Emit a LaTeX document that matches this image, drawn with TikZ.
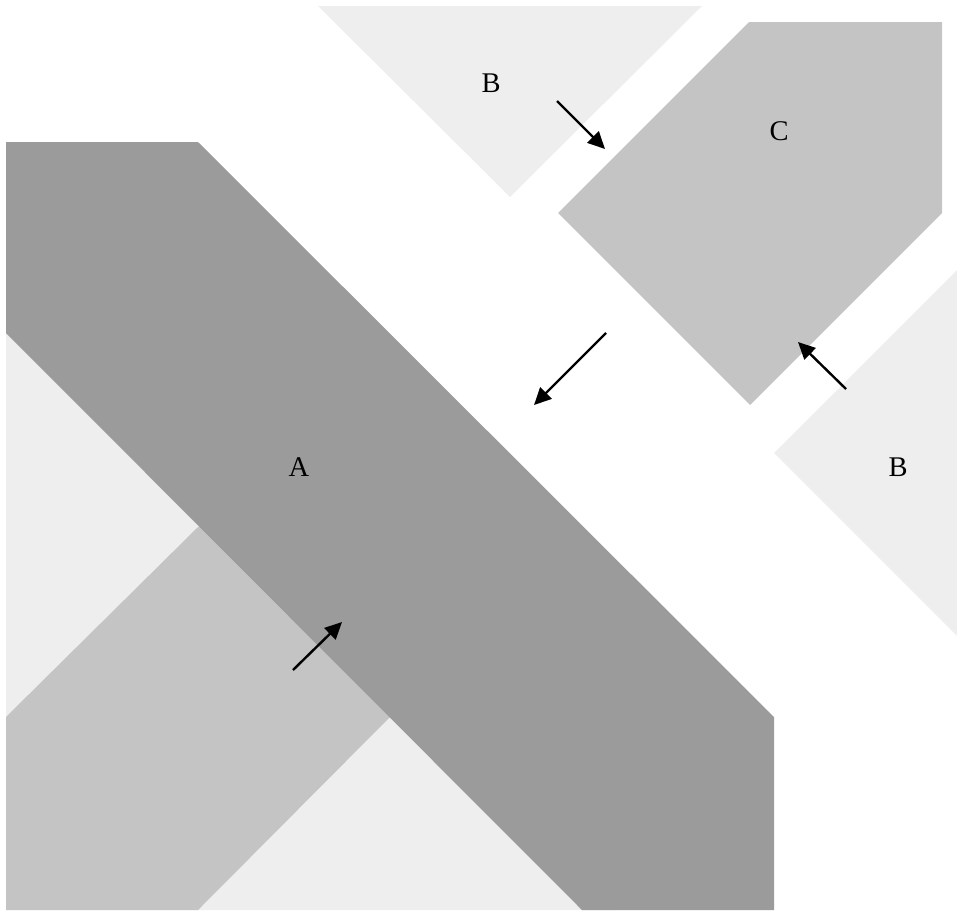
\documentclass[tikz,border=0pt]{standalone}
\usepackage{fontspec}
\setmainfont{Liberation Serif}
\usetikzlibrary{arrows.meta}
\definecolor{bandA}{RGB}{155,155,155}
\definecolor{bandC}{RGB}{196,196,196}
\definecolor{zoneB}{RGB}{238,238,238}
\tikzstyle{arrow} = [line width=2.4pt, -{Triangle[length=17pt,width=16pt]}, color=black]
\tikzstyle{tag} = [inner sep=0pt, font=\fontsize{28.5}{30}\selectfont]
\tikzstyle{darkzone} = [fill=bandA]
\tikzstyle{midzone} = [fill=bandC]
\tikzstyle{lightzone} = [fill=zoneB]

\begin{document}
\begin{tikzpicture}[x=1pt,y=-1pt]
    \useasboundingbox (0,0) rectangle (957,911);
    % light zones (the lower one runs on under the dark band)
    \fill[lightzone] (6,300) -- (615,910) -- (6,910) -- cycle;
    \fill[lightzone] (318,6) -- (702,6) -- (510,197) -- cycle;
    \fill[lightzone] (774,453) -- (957,270) -- (957,636) -- cycle;
    % medium zones
    \fill[midzone] (6,717) -- (198,527) -- (230,520) -- (420,710) -- (389,718) -- (198,910) -- (6,910) -- cycle;
    \fill[midzone] (749,22) -- (942,22) -- (942,213) -- (750,405) -- (558,213) -- cycle;
    % dark band
    \fill[darkzone] (6,142) -- (198,142) -- (774,717) -- (774,910) -- (582,910) -- (6,333) -- cycle;

    \node (labA) [tag] at (299,467) {A};
    \node (labBtop) [tag] at (491,83) {B};
    \node (labC) [tag] at (779,131) {C};
    \node (labBright) [tag] at (898,467) {B};

    \coordinate (inBs) at (557,101);
    \coordinate (inBt) at (605,149);
    \coordinate (outCs) at (606,333);
    \coordinate (outCt) at (534,405);
    \coordinate (inCs) at (846,389);
    \coordinate (inCt) at (798,342);
    \coordinate (inAs) at (293,670);
    \coordinate (inAt) at (342,622);

    \draw [arrow] (inBs) -- (inBt);
    \draw [arrow] (outCs) -- (outCt);
    \draw [arrow] (inCs) -- (inCt);
    \draw [arrow] (inAs) -- (inAt);
\end{tikzpicture}
\end{document}
